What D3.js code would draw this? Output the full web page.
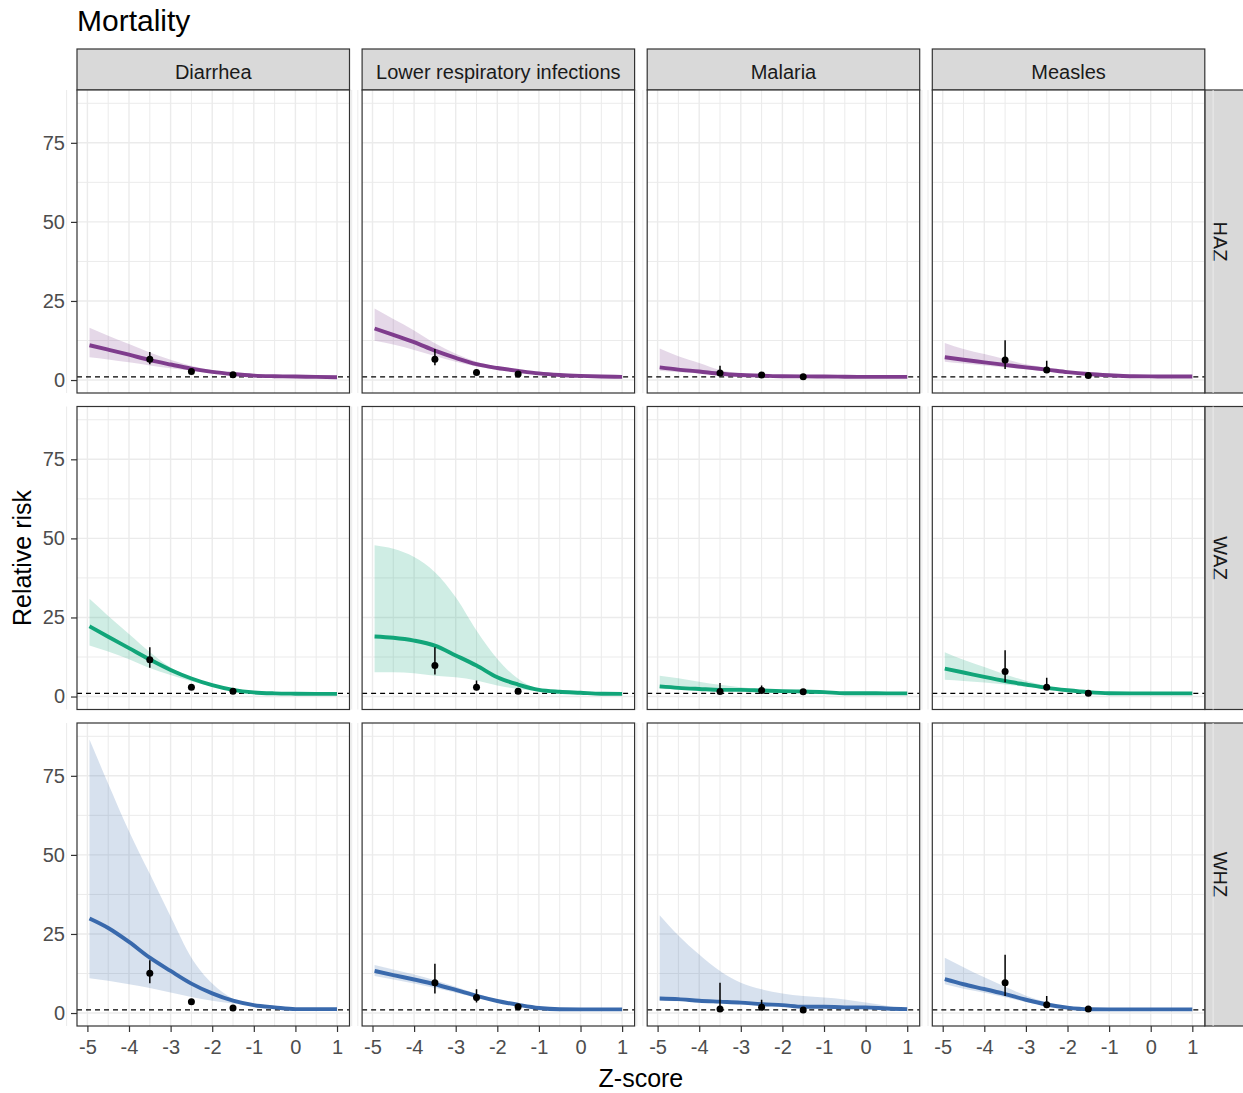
<!DOCTYPE html>
<html>
<head>
<meta charset="utf-8">
<script src="https://cdn.jsdelivr.net/npm/d3@7"></script>
<style>
  html, body { margin: 0; padding: 0; background: #ffffff; }
  svg { display: block; font-family: "Liberation Sans", Arial, sans-serif; }
</style>
</head>
<body>
<svg id="chart" width="1243" height="1093"></svg>
<script>
// Facet grid: columns are causes of death, rows are anthropometric indicators.
const causes = ["Diarrhea", "Lower respiratory infections", "Malaria", "Measles"];
const indicators = ["HAZ", "WAZ", "WHZ"];
const indicatorColors = ["#7F3C8D", "#11A579", "#3969AC"];

const xTicks = [-5, -4, -3, -2, -1, 0, 1];
const yTicks = [0, 25, 50, 75];

// Z-score grid on which the fitted curves are evaluated
const zGrid = [-4.95, -4.5, -4, -3.5, -3, -2.5, -2, -1.5, -1, -0.5, 0, 0.5, 1];

// Fitted relative risk with lower / upper bounds, one array per cause
const hazFit = [
  [11.0, 9.6, 8.0, 6.3, 4.9, 3.6, 2.6, 1.9, 1.4, 1.2, 1.1, 1.0, 0.9],
  [16.3, 14.3, 12.0, 9.3, 7.0, 5.0, 3.8, 2.9, 2.1, 1.6, 1.3, 1.1, 1.0],
  [4.0, 3.3, 2.7, 2.0, 1.6, 1.4, 1.2, 1.15, 1.1, 1.05, 1.0, 1.0, 1.0],
  [7.2, 6.4, 5.6, 4.8, 4.0, 3.3, 2.5, 1.9, 1.5, 1.2, 1.15, 1.1, 1.1]
];
const hazLower = [
  [7.2, 6.5, 5.6, 4.6, 3.7, 2.9, 2.2, 1.7, 1.3, 1.1, 1.0, 0.9, 0.85],
  [12.4, 11.2, 9.5, 7.6, 5.8, 4.3, 3.3, 2.6, 1.9, 1.5, 1.2, 1.05, 0.95],
  [2.9, 2.5, 2.1, 1.6, 1.3, 1.2, 1.1, 1.05, 1.0, 1.0, 0.95, 0.95, 0.95],
  [5.8, 5.2, 4.6, 4.0, 3.4, 2.8, 2.2, 1.8, 1.4, 1.15, 1.1, 1.05, 1.05]
];
const hazUpper = [
  [16.5, 14.0, 11.4, 8.7, 6.4, 4.5, 3.1, 2.1, 1.5, 1.2, 1.1, 1.0, 0.9],
  [22.6, 19.3, 15.7, 11.6, 8.3, 5.8, 4.2, 3.1, 2.2, 1.7, 1.4, 1.2, 1.05],
  [10.0, 7.5, 5.4, 3.2, 2.1, 1.6, 1.3, 1.2, 1.15, 1.1, 1.05, 1.0, 1.0],
  [11.7, 9.8, 8.2, 6.6, 5.0, 3.9, 2.8, 2.0, 1.6, 1.25, 1.15, 1.1, 1.1]
];

const wazFit = [
  [22.2, 18.9, 15.3, 11.7, 8.4, 5.7, 3.6, 2.1, 1.3, 1.0, 0.9, 0.85, 0.85],
  [19.0, 18.6, 17.7, 16.1, 13.0, 9.8, 6.1, 3.8, 2.1, 1.5, 1.2, 0.9, 0.85],
  [3.2, 2.75, 2.4, 2.1, 2.1, 1.9, 1.7, 1.6, 1.4, 1.05, 1.05, 1.0, 1.0],
  [8.8, 7.6, 6.2, 4.9, 3.8, 2.75, 2.0, 1.4, 1.05, 1.0, 1.0, 1.0, 1.0]
];
const wazLower = [
  [16.1, 14.2, 11.8, 9.0, 6.8, 4.8, 3.2, 1.9, 1.2, 0.95, 0.85, 0.8, 0.8],
  [7.7, 7.7, 7.4, 6.6, 6.1, 5.1, 3.5, 2.4, 1.7, 1.3, 1.1, 0.85, 0.8],
  [2.4, 2.2, 2.0, 1.8, 1.7, 1.6, 1.45, 1.35, 1.2, 1.0, 1.0, 0.95, 0.95],
  [5.3, 4.9, 4.4, 3.8, 3.1, 2.3, 1.8, 1.3, 1.0, 0.95, 0.95, 0.95, 0.95]
];
const wazUpper = [
  [30.9, 25.5, 19.8, 14.1, 9.2, 6.1, 3.9, 2.3, 1.4, 1.05, 0.95, 0.9, 0.9],
  [47.8, 46.7, 44.1, 39.3, 31.4, 20.9, 11.9, 5.6, 2.4, 1.6, 1.3, 0.95, 0.9],
  [6.6, 5.8, 4.7, 3.7, 2.9, 2.4, 2.1, 1.8, 1.5, 1.1, 1.1, 1.05, 1.05],
  [14.0, 11.6, 9.3, 7.0, 5.0, 3.4, 2.3, 1.5, 1.1, 1.05, 1.0, 1.0, 1.0]
];

const whzFit = [
  [29.9, 26.9, 22.5, 17.5, 13.3, 9.3, 6.2, 3.9, 2.5, 1.8, 1.25, 1.25, 1.25],
  [13.3, 12.0, 10.6, 9.1, 7.3, 5.4, 3.8, 2.6, 1.6, 1.2, 1.15, 1.15, 1.15],
  [4.6, 4.4, 3.9, 3.6, 3.3, 2.8, 2.5, 2.0, 2.0, 1.8, 1.8, 1.45, 1.25],
  [10.7, 9.1, 7.6, 6.0, 4.2, 2.7, 1.7, 1.2, 1.15, 1.15, 1.15, 1.15, 1.15]
];
const whzLower = [
  [11.0, 10.2, 9.1, 7.9, 6.5, 5.1, 3.9, 3.0, 2.3, 1.7, 1.2, 1.2, 1.2],
  [11.7, 10.6, 9.3, 7.9, 6.4, 4.8, 3.5, 2.4, 1.5, 1.15, 1.1, 1.1, 1.1],
  [3.9, 3.7, 3.3, 3.0, 2.8, 2.4, 2.2, 1.8, 1.7, 1.5, 1.5, 1.3, 1.1],
  [9.1, 7.7, 6.4, 5.0, 3.5, 2.3, 1.5, 1.1, 1.1, 1.1, 1.1, 1.1, 1.1]
];
const whzUpper = [
  [86.5, 72.5, 57.5, 44.0, 30.5, 17.5, 9.3, 4.5, 2.6, 1.8, 1.3, 1.3, 1.3],
  [15.2, 13.8, 12.2, 10.4, 8.3, 6.1, 4.3, 2.9, 1.7, 1.25, 1.2, 1.2, 1.2],
  [30.9, 24.5, 18.5, 13.3, 9.6, 7.5, 6.2, 5.4, 4.9, 4.3, 3.3, 2.3, 1.25],
  [17.5, 14.5, 11.3, 8.3, 5.5, 3.4, 2.0, 1.3, 1.2, 1.2, 1.2, 1.2, 1.2]
];

// Observed estimates at the Z-score category midpoints, with intervals
const pointZ = [-3.5, -2.5, -1.5];
const hazPoint = [[6.6, 2.7, 1.7], [6.6, 2.4, 1.9], [2.2, 1.6, 1.05], [6.3, 3.2, 1.4]];
const hazPointLo = [[5.0, 2.4, 1.5], [4.7, 2.0, 1.7], [1.4, 1.2, 0.9], [3.5, 2.3, 1.1]];
const hazPointHi = [[8.9, 3.0, 1.9], [9.8, 2.9, 2.1], [4.5, 2.3, 1.2], [12.6, 6.1, 1.7]];

const wazPoint = [[11.6, 2.9, 1.7], [9.8, 2.9, 1.7], [1.6, 1.9, 1.5], [7.9, 2.9, 1.05]];
const wazPointLo = [[9.1, 2.6, 1.5], [7.0, 2.0, 1.2], [1.2, 1.6, 1.3], [4.5, 2.3, 0.9]];
const wazPointHi = [[15.6, 3.2, 1.9], [15.6, 5.1, 2.5], [4.3, 3.5, 1.7], [14.6, 5.9, 1.3]];

const whzPoint = [[12.6, 3.6, 1.6], [9.6, 4.9, 2.0], [1.25, 1.8, 0.95], [9.6, 2.6, 1.25]];
const whzPointLo = [[9.4, 3.3, 1.4], [6.2, 3.3, 1.8], [1.0, 1.4, 0.8], [5.4, 1.6, 1.1]];
const whzPointHi = [[16.7, 3.9, 1.8], [15.6, 7.5, 2.3], [9.6, 4.2, 1.1], [18.4, 5.4, 1.4]];

const fits = [hazFit, wazFit, whzFit];
const lowers = [hazLower, wazLower, whzLower];
const uppers = [hazUpper, wazUpper, whzUpper];
const points = [hazPoint, wazPoint, whzPoint];
const pointLos = [hazPointLo, wazPointLo, whzPointLo];
const pointHis = [hazPointHi, wazPointHi, whzPointHi];

// ---- layout ----
const svg = d3.select("#chart");
const panelLeft = 77, panelTop = 90;
const pw = 272.5, ph = 303;
const gapX = 12.6, gapY = 13.5;
const stripH = 41, stripW = 41;
const borderCol = "#333333";
const gridCol = "#EBEBEB";

const x = d3.scaleLinear().domain([-5.25, 1.30]).range([0, pw]);
const y = d3.scaleLinear().domain([-4.1, 91.7]).range([ph, 0]);

const xMinor = d3.range(-5.5, 1.6, 0.5).filter(v => !Number.isInteger(v));
const yMinor = [12.5, 37.5, 62.5, 87.5];

// Title
svg.append("text")
  .attr("x", panelLeft).attr("y", 31)
  .attr("font-size", 30).attr("fill", "#000")
  .text("Mortality");

// Axis titles
svg.append("text")
  .attr("x", panelLeft + (4 * pw + 3 * gapX) / 2)
  .attr("y", 1087)
  .attr("text-anchor", "middle")
  .attr("font-size", 25).attr("fill", "#000")
  .text("Z-score");

svg.append("text")
  .attr("transform", `translate(31, ${panelTop + (3 * ph + 2 * gapY) / 2}) rotate(-90)`)
  .attr("text-anchor", "middle")
  .attr("font-size", 25).attr("fill", "#000")
  .text("Relative risk");

const area = d3.area()
  .x(d => x(d.z)).y0(d => y(d.lo)).y1(d => y(d.hi))
  .curve(d3.curveMonotoneX);
const line = d3.line()
  .x(d => x(d.z)).y(d => y(d.v))
  .curve(d3.curveMonotoneX);

// Column strips
causes.forEach((cause, c) => {
  const gx = panelLeft + c * (pw + gapX);
  const g = svg.append("g").attr("transform", `translate(${gx}, ${panelTop - stripH})`);
  g.append("rect").attr("width", pw).attr("height", stripH)
    .attr("fill", "#D9D9D9").attr("stroke", borderCol).attr("stroke-width", 1.2);
  g.append("text")
    .attr("x", pw / 2).attr("y", stripH / 2 + 9)
    .attr("text-anchor", "middle").attr("font-size", 20).attr("fill", "#1A1A1A")
    .text(cause);
});

// Row strips
indicators.forEach((ind, r) => {
  const gy = panelTop + r * (ph + gapY);
  const gx = panelLeft + 4 * pw + 3 * gapX;
  const g = svg.append("g").attr("transform", `translate(${gx}, ${gy})`);
  g.append("rect").attr("width", stripW).attr("height", ph)
    .attr("fill", "#D9D9D9").attr("stroke", borderCol).attr("stroke-width", 1.2);
  g.append("text")
    .attr("transform", `translate(${stripW / 2 - 12}, ${ph / 2}) rotate(90)`)
    .attr("text-anchor", "middle").attr("font-size", 20).attr("fill", "#1A1A1A")
    .text(ind);
});

// Panels
indicators.forEach((ind, r) => {
  causes.forEach((cause, c) => {
    const gx = panelLeft + c * (pw + gapX);
    const gy = panelTop + r * (ph + gapY);
    const g = svg.append("g").attr("transform", `translate(${gx}, ${gy})`);
    const clipId = `clip-${r}-${c}`;
    g.append("clipPath").attr("id", clipId)
      .append("rect").attr("width", pw).attr("height", ph);

    g.append("rect").attr("width", pw).attr("height", ph).attr("fill", "#fff");

    const grid = g.append("g");
    grid.selectAll(".xmin").data(xMinor).join("line")
      .attr("x1", d => x(d)).attr("x2", d => x(d)).attr("y1", 0).attr("y2", ph)
      .attr("stroke", gridCol).attr("stroke-width", 1.0);
    grid.selectAll(".ymin").data(yMinor).join("line")
      .attr("y1", d => y(d)).attr("y2", d => y(d)).attr("x1", 0).attr("x2", pw)
      .attr("stroke", gridCol).attr("stroke-width", 1.0);
    grid.selectAll(".xmaj").data(xTicks).join("line")
      .attr("x1", d => x(d)).attr("x2", d => x(d)).attr("y1", 0).attr("y2", ph)
      .attr("stroke", gridCol).attr("stroke-width", 1.4);
    grid.selectAll(".ymaj").data(yTicks).join("line")
      .attr("y1", d => y(d)).attr("y2", d => y(d)).attr("x1", 0).attr("x2", pw)
      .attr("stroke", gridCol).attr("stroke-width", 1.4);

    const color = indicatorColors[r];
    const fit = fits[r][c], lo = lowers[r][c], hi = uppers[r][c];
    const curveData = zGrid.map((z, i) => ({ z, v: fit[i], lo: lo[i], hi: hi[i] }));

    const plot = g.append("g").attr("clip-path", `url(#${clipId})`);
    plot.append("path").datum(curveData)
      .attr("d", area).attr("fill", color).attr("fill-opacity", 0.2);

    // Reference line at relative risk 1
    plot.append("line")
      .attr("x1", 0).attr("x2", pw).attr("y1", y(1)).attr("y2", y(1))
      .attr("stroke", "#000").attr("stroke-width", 1.2).attr("stroke-dasharray", "5,4");

    plot.append("path").datum(curveData)
      .attr("d", line).attr("fill", "none").attr("stroke", color)
      .attr("stroke-width", 3.9).attr("stroke-linejoin", "round");

    const pts = pointZ.map((z, i) => ({
      z, v: points[r][c][i], lo: pointLos[r][c][i], hi: pointHis[r][c][i]
    }));
    plot.selectAll(".err").data(pts).join("line")
      .attr("x1", d => x(d.z)).attr("x2", d => x(d.z))
      .attr("y1", d => y(d.lo)).attr("y2", d => y(d.hi))
      .attr("stroke", "#000").attr("stroke-width", 1.5);
    plot.selectAll(".pt").data(pts).join("circle")
      .attr("cx", d => x(d.z)).attr("cy", d => y(d.v)).attr("r", 3.5)
      .attr("fill", "#000");

    g.append("rect").attr("width", pw).attr("height", ph)
      .attr("fill", "none").attr("stroke", borderCol).attr("stroke-width", 1.2);

    // Axes on the outer panels only
    if (c === 0) {
      const ax = g.append("g").call(
        d3.axisLeft(y).tickValues(yTicks).tickSize(6).tickPadding(6).tickSizeOuter(0)
      );
      ax.select(".domain").remove();
      ax.selectAll(".tick line").attr("stroke", borderCol).attr("stroke-width", 1.2);
      ax.selectAll(".tick text")
        .attr("font-size", 20).attr("fill", "#4D4D4D")
        .attr("font-family", "Liberation Sans, Arial, sans-serif");
    }
    if (r === indicators.length - 1) {
      const ax = g.append("g").attr("transform", `translate(0, ${ph})`).call(
        d3.axisBottom(x).tickValues(xTicks).tickSize(6).tickPadding(8).tickSizeOuter(0)
          .tickFormat(d3.format("d"))
      );
      ax.select(".domain").remove();
      ax.selectAll(".tick line").attr("stroke", borderCol).attr("stroke-width", 1.2);
      ax.selectAll(".tick text")
        .attr("font-size", 20).attr("fill", "#4D4D4D")
        .attr("font-family", "Liberation Sans, Arial, sans-serif")
        .text(d => d < 0 ? "-" + Math.abs(d) : String(d));
    }
  });
});
</script>
</body>
</html>
